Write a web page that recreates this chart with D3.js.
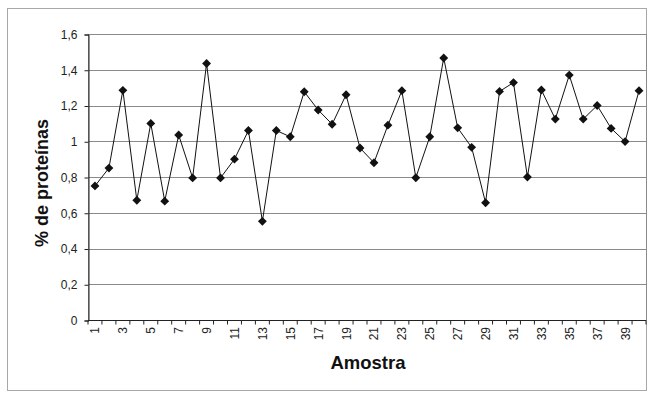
<!DOCTYPE html>
<html>
<head>
<meta charset="utf-8">
<script src="https://cdn.jsdelivr.net/npm/d3@7"></script>
<style>
  body { margin: 0; background: #fff; }
  svg { font-family: Arial, "Liberation Sans", sans-serif; }
</style>
</head>
<body>
<div id="chart"></div>
<script>
// amostras 1..40
var amostras = d3.range(1, 41);
var proteinas = [0.75, 0.85, 1.285, 0.67, 1.10, 0.665, 1.035, 0.795, 1.435, 0.795,
                 0.90, 1.06, 0.552, 1.06, 1.025, 1.277, 1.175, 1.095, 1.26, 0.962,
                 0.88, 1.09, 1.283, 0.796, 1.025, 1.466, 1.075, 0.966, 0.656, 1.279,
                 1.328, 0.80, 1.287, 1.124, 1.37, 1.124, 1.20, 1.072, 0.998, 1.283];
var yTicks = [0, 0.2, 0.4, 0.6, 0.8, 1, 1.2, 1.4, 1.6];

var w = 654, h = 396;
var margin = {top: 34, right: 8, bottom: 76, left: 88};

var svg = d3.select('#chart').append('svg')
    .attr('width', w)
    .attr('height', h);

// outer frame
svg.append('rect')
    .attr('x', 7.5).attr('y', 8.5)
    .attr('width', w - 15).attr('height', h - 14)
    .attr('fill', 'none')
    .attr('stroke', '#a8a8a8');

var x = d3.scaleBand()
    .domain(amostras)
    .range([margin.left, w - margin.right]);

var y = d3.scaleLinear()
    .domain([0, 1.6])
    .range([h - margin.bottom, margin.top]);

var fmt = function(d) { return String(d).replace('.', ','); };

// gridlines
svg.append('g')
    .selectAll('line')
    .data(yTicks)
    .enter().append('line')
        .attr('x1', margin.left)
        .attr('x2', w - margin.right)
        .attr('y1', function(d) { return Math.round(y(d)) + 0.5; })
        .attr('y2', function(d) { return Math.round(y(d)) + 0.5; })
        .attr('stroke', '#8a8a8a');

// plot border
svg.append('rect')
    .attr('x', margin.left + 0.5)
    .attr('y', Math.round(y(1.6)) + 0.5)
    .attr('width', w - margin.right - margin.left)
    .attr('height', Math.round(y(0)) - Math.round(y(1.6)))
    .attr('fill', 'none')
    .attr('stroke', '#8a8a8a');

// y axis
var yAxis = svg.append('g')
    .attr('transform', 'translate(' + (margin.left + 0.5) + ',0.5)')
    .call(d3.axisLeft(y).tickValues(yTicks).tickFormat(fmt).tickSize(4).tickPadding(7));
yAxis.select('.domain').attr('stroke', '#222');
yAxis.selectAll('line').attr('stroke', '#222');
yAxis.selectAll('text').attr('font-size', 12).attr('fill', '#222');

// x axis: ticks at category boundaries
var xg = svg.append('g');
xg.append('line')
    .attr('x1', margin.left).attr('x2', w - margin.right)
    .attr('y1', Math.round(y(0)) + 0.5).attr('y2', Math.round(y(0)) + 0.5)
    .attr('stroke', '#222');
xg.selectAll('.tk')
    .data(amostras.concat([41]))
    .enter().append('line')
        .attr('class', 'tk')
        .attr('x1', function(d) { return d === 41 ? w - margin.right : x(d); })
        .attr('x2', function(d) { return d === 41 ? w - margin.right : x(d); })
        .attr('y1', Math.round(y(0)) + 0.5)
        .attr('y2', Math.round(y(0)) + 4.5)
        .attr('stroke', '#222');
xg.selectAll('text')
    .data(amostras.filter(function(d) { return d % 2 === 1; }))
    .enter().append('text')
        .attr('transform', function(d) {
            return 'translate(' + (x(d) + x.bandwidth() / 2 + 4.5) + ',' + (y(0) + 7) + ') rotate(-90)';
        })
        .attr('text-anchor', 'end')
        .attr('font-size', 12)
        .attr('fill', '#222')
        .text(function(d) { return d; });

// line
var line = d3.line()
    .x(function(d, i) { return x(amostras[i]) + x.bandwidth() / 2; })
    .y(function(d) { return y(d); });

svg.append('path')
    .datum(proteinas)
    .attr('d', line)
    .attr('fill', 'none')
    .attr('stroke', '#111')
    .attr('stroke-width', 1);

// diamond markers
svg.append('g')
    .selectAll('path')
    .data(proteinas)
    .enter().append('path')
        .attr('d', d3.symbol().type(d3.symbolDiamond2).size(50))
        .attr('transform', function(d, i) {
            return 'translate(' + (x(amostras[i]) + x.bandwidth() / 2) + ',' + y(d) + ')';
        })
        .attr('fill', '#111');

// axis titles
svg.append('text')
    .attr('x', 368)
    .attr('y', 369)
    .attr('text-anchor', 'middle')
    .attr('font-size', 18.5)
    .attr('font-weight', 'bold')
    .attr('fill', '#111')
    .text('Amostra');

svg.append('text')
    .attr('transform', 'translate(48,183) rotate(-90)')
    .attr('text-anchor', 'middle')
    .attr('font-size', 18)
    .attr('font-weight', 'bold')
    .attr('fill', '#111')
    .text('% de proteínas');
</script>
</body>
</html>
